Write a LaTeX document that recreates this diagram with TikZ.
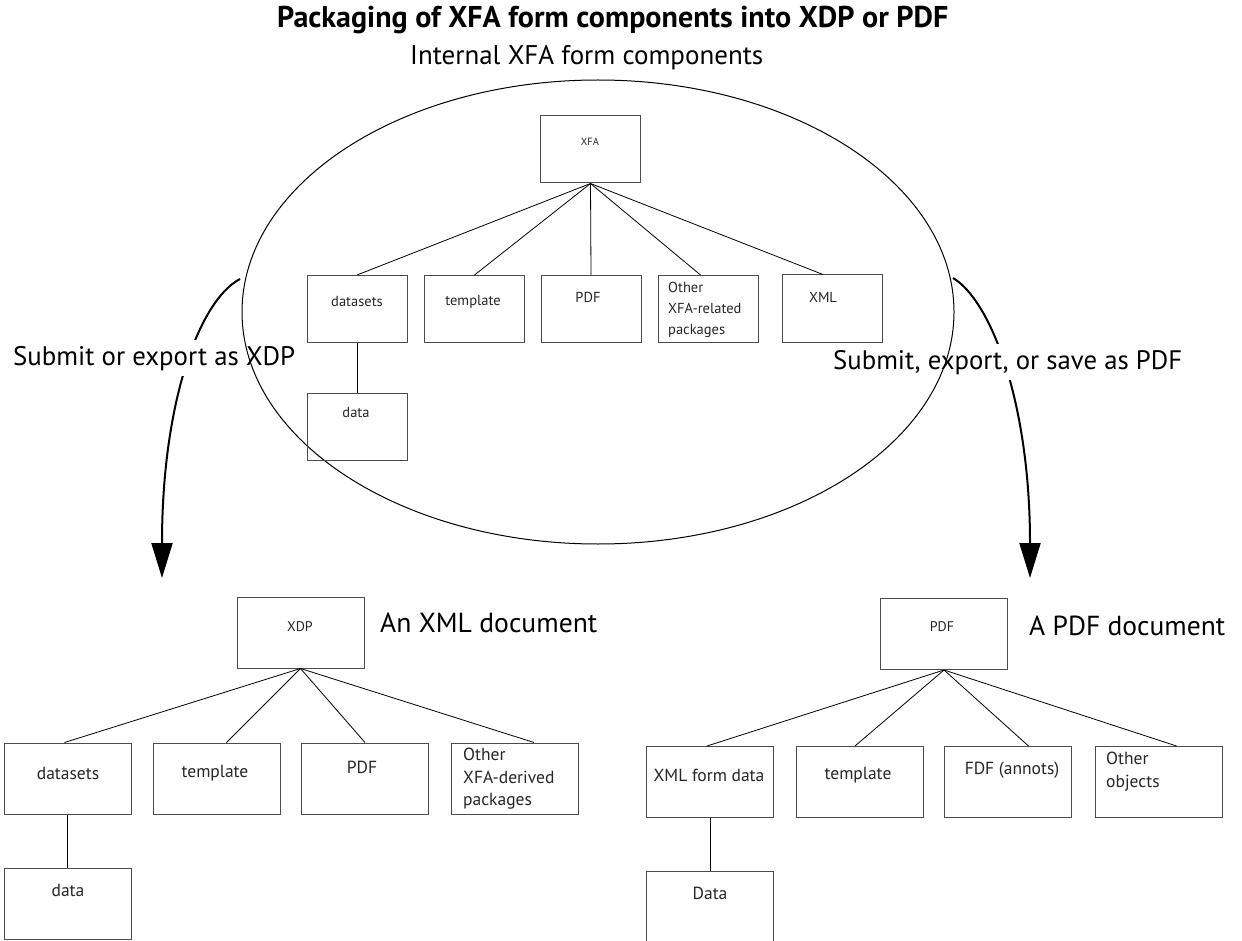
\documentclass[tikz,border=0pt]{standalone}
\usepackage{fontspec}
\setmainfont{PT Sans}
\usetikzlibrary{shapes.geometric,arrows.meta,calc}
\newcommand{\fitw}[2]{\resizebox{#1}{!}{#2}}
\tikzset{
  box/.style={draw=black!70, line width=1pt, minimum width=100pt, minimum height=67pt, inner sep=0pt},
  bigbox/.style={box, minimum width=127pt, minimum height=71pt},
  smalltxt/.style={font=\fontsize{14.5}{21}\selectfont, text=black!85, inner sep=0pt},
  bigtxt/.style={font=\fontsize{17.5}{22.5}\selectfont, text=black!85, inner sep=0pt},
  conn/.style={draw=black, line width=0.8pt},
  lab/.style={anchor=base west, inner xsep=0pt, inner ysep=0pt},
  flow/.style={line width=2pt, -{Triangle[length=35pt,width=21pt]}},
}
\begin{document}
\begin{tikzpicture}[x=1pt,y=-1pt]
\useasboundingbox (0,0) rectangle (1242,941);
\clip (0,0) rectangle (1242,941);
\fill[white] (0,0) rectangle (1242,941);

% titles
\node[lab] (title) at (277,28) {\fitw{671pt}{\bfseries Packaging of XFA form components into XDP or PDF}};
\node[lab] (internal) at (410,65) {\fitw{353pt}{Internal XFA form components}};

% flow arrows
\coordinate (ls) at (240,279);
\coordinate (lt) at (162,578);
\coordinate (rs) at (953,278);
\coordinate (rt) at (1030,578);
\draw[flow] (ls) .. controls (200,300) and (162,400) .. (lt);
\draw[flow] (rs) .. controls (990,300) and (1030,400) .. (rt);
\node[lab, fill=white, inner ysep=6pt] (lxdp) at (13,365) {\fitw{282pt}{Submit or export as XDP}};
\node[lab, fill=white, inner ysep=6pt] (lpdf) at (833,369) {\fitw{349pt}{Submit, export, or save as PDF}};

% ellipse
\node[draw, ellipse, line width=1pt, minimum width=712pt, minimum height=464pt, inner sep=0pt] (oval) at (598,312) {};

% internal tree
\node[box] (xfa) at (590.5,149.5) {};
\node[box] (ds1) at (357,309) {};
\node[box] (tp1) at (474.5,309) {};
\node[box] (pdf1) at (591,309) {};
\node[box] (oth1) at (708.5,309) {};
\node[box] (xml1) at (832,308.5) {};
\node[box] (dat1) at (357,426.5) {};

\node[smalltxt, font=\fontsize{10.5}{12}\selectfont] (txfa) at (590,142) {XFA};
\node[smalltxt] (tds1) at (357,302) {datasets};
\node[smalltxt] (ttp1) at (473,302) {template};
\node[smalltxt] (tpdf1) at (588,297) {PDF};
\node[smalltxt, anchor=west, align=left] (toth1) at (668,310) {Other\\XFA-related\\packages};
\node[smalltxt] (txml1) at (823,297) {XML};
\node[smalltxt] (tdat1) at (356,413) {data};

\draw[conn] (xfa.south) -- (ds1.north);
\draw[conn] (xfa.south) -- (tp1.north);
\draw[conn] (xfa.south) -- (pdf1.north);
\draw[conn] (xfa.south) -- ([xshift=-8pt]oth1.north);
\draw[conn] (xfa.south) -- ([xshift=-9pt]xml1.north);
\draw[conn] (ds1.south) -- (dat1.north);

% XDP tree
\node[bigbox] (xdp) at (300.5,632.5) {};
\node[bigbox] (ds2) at (67.5,778.5) {};
\node[bigbox] (tp2) at (216.5,778.5) {};
\node[bigbox] (pdf2) at (365,778.5) {};
\node[bigbox] (oth2) at (515,778.5) {};
\node[bigbox] (dat2) at (67.5,904) {};

\node[bigtxt, font=\fontsize{14}{16}\selectfont] (txdp) at (300,627) {XDP};
\node[lab] (txmldoc) at (380,632) {\fitw{217pt}{An XML document}};
\node[bigtxt] (tds2) at (68,773) {datasets};
\node[bigtxt] (ttp2) at (215,773) {template};
\node[bigtxt] (tpdf2) at (362,767) {PDF};
\node[bigtxt, anchor=west, align=left] (toth2) at (463,779) {Other\\XFA-derived\\packages};
\node[bigtxt] (tdat2) at (68,890) {data};

\draw[conn] (xdp.south) -- ([xshift=-3pt]ds2.north);
\draw[conn] (xdp.south) -- ([xshift=10pt]tp2.north);
\draw[conn] (xdp.south) -- (pdf2.north);
\draw[conn] (xdp.south) -- ([xshift=19pt]oth2.north);
\draw[conn] (ds2.south) -- (dat2.north);

% PDF tree
\node[bigbox] (pdf3) at (944,634) {};
\node[bigbox] (xfd) at (710,782) {};
\node[bigbox] (tp3) at (860,782) {};
\node[bigbox] (fdf) at (1007.5,782) {};
\node[bigbox] (oth3) at (1158.5,782) {};
\node[bigbox, minimum height=74pt] (dat3) at (710,908) {};

\node[bigtxt, font=\fontsize{14}{16}\selectfont] (tpdf3) at (942,627) {PDF};
\node[lab] (tpdfdoc) at (1029,635) {\fitw{196pt}{A PDF document}};
\node[bigtxt] (txfd) at (709,775) {XML form data};
\node[bigtxt] (ttp3) at (858,775) {template};
\node[bigtxt] (tfdf) at (1012,770) {FDF (annots)};
\node[bigtxt, anchor=west, align=left] (toth3) at (1106,771.5) {Other\\objects};
\node[bigtxt] (tdat3) at (710,893) {Data};

\draw[conn] (pdf3.south) -- ([xshift=-3pt]xfd.north);
\draw[conn] (pdf3.south) -- ([xshift=-5pt]tp3.north);
\draw[conn] (pdf3.south) -- ([xshift=21pt]fdf.north);
\draw[conn] (pdf3.south) -- ([xshift=18pt]oth3.north);
\draw[conn] (xfd.south) -- (dat3.north);
\end{tikzpicture}
\end{document}
